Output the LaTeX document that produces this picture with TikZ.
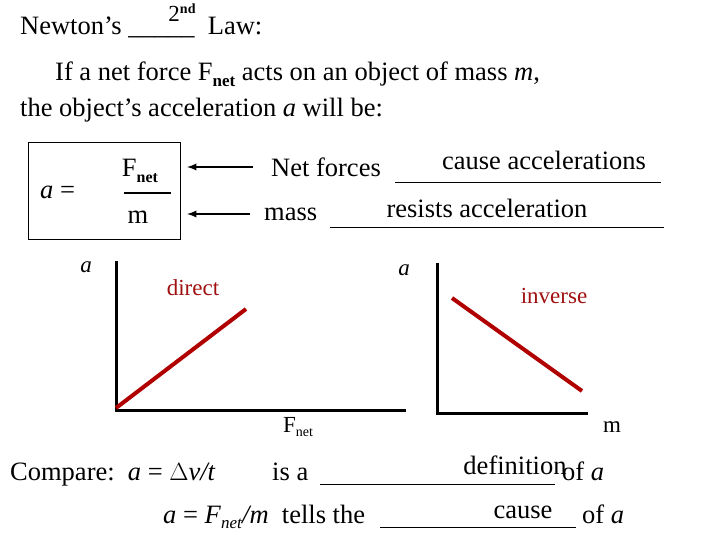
\documentclass[tikz,border=0pt]{standalone}
\usepackage{fontspec}
\setmainfont{Liberation Serif}
\begin{document}
\begin{tikzpicture}[x=1pt,y=-1pt,
  txt/.style={anchor=base west,inner sep=0pt,font=\fontsize{26.5}{30}\selectfont},
  ctr/.style={anchor=base,inner sep=0pt,font=\fontsize{26.5}{30}\selectfont},
  lbl/.style={anchor=base,inner sep=0pt,font=\fontsize{23}{26}\selectfont},
  red/.style={lbl,text={rgb,255:red,160;green,16;blue,16}},
  ax/.style={line width=3pt},
  plot/.style={line width=4pt,draw={rgb,255:red,176;green,0;blue,0}},
  uline/.style={line width=0.8pt},
  arr/.style={line width=2.2pt,-latex}]
\useasboundingbox (0,0) rectangle (720,540);
% title
\node[txt] (t1) at (20,35) {Newton’s \_\_\_\_\_\ \ Law:};
\node[lbl] (t2) at (182,22) {2\raisebox{0.35em}{\fontsize{14}{16}\selectfont\bfseries nd}};
\node[txt] (l1) at (55,81) {If a net force F\raisebox{-0.2em}{\fontsize{17}{19}\selectfont\bfseries net} acts on an object of mass \textit{m},};
\node[txt] (l2) at (20,117) {the object’s acceleration \textit{a} will be:};
% box
\draw[line width=0.8pt] (28,142) rectangle (180,239);
\node[txt] (aeq) at (40,199) {\textit{a} =};
\node[ctr] (fn) at (140,177) {F\raisebox{-0.2em}{\fontsize{16}{18}\selectfont\bfseries net}};
\draw[line width=2.5pt] (124,193) -- (171,193);
\node[ctr] (mm) at (138,224) {m};
% arrows
\coordinate (a1s) at (253,167); \coordinate (a1e) at (187,167);
\coordinate (a2s) at (250,214); \coordinate (a2e) at (187,214);
\draw[arr] (a1s) -- (a1e);
\draw[arr] (a2s) -- (a2e);
\node[txt] (nf) at (271,177) {Net forces};
\draw[uline] (395,182) -- (661,182);
\node[ctr] (ca) at (544,170) {cause accelerations};
\node[txt] (ms) at (264,221) {mass};
\draw[uline] (330,227) -- (664,227);
\node[ctr] (ra) at (487,218) {resists acceleration};
% left graph
\draw[ax] (116,261) -- (116,410) -- (406,410);
\draw[plot] (116,408) -- (246,309);
\node[lbl] (la) at (86,272) {\textit{a}};
\node[red] (dr) at (193,295) {direct};
\node[lbl] (lf) at (298,432) {F\raisebox{-0.2em}{\fontsize{14}{16}\selectfont net}};
% right graph
\draw[ax] (437,263) -- (437,413) -- (588,413);
\draw[plot] (452,298) -- (582,391);
\node[lbl] (ra2) at (404,275) {\textit{a}};
\node[red] (iv) at (554,303) {inverse};
\node[lbl] (rm) at (612,432) {m};
% bottom
\node[txt] (cp) at (10,480) {Compare:\ \ \textit{a} = \textit{$\Delta$v/t}};
\node[txt] (isa) at (272,480) {is a};
\draw[uline] (320,484) -- (555,484);
\node[txt] (ofa) at (562,480) {of \textit{a}};
\node[ctr] (def) at (515,474) {definition};
\node[txt] (tl) at (163,523) {\textit{a} = \textit{F}\raisebox{-0.2em}{\fontsize{17}{19}\selectfont\textit{net}}\textit{/m}\ \ tells the};
\draw[uline] (380,527) -- (576,527);
\node[txt] (ofa2) at (582,523) {of \textit{a}};
\node[ctr] (cs) at (523,518) {cause};
\end{tikzpicture}
\end{document}
